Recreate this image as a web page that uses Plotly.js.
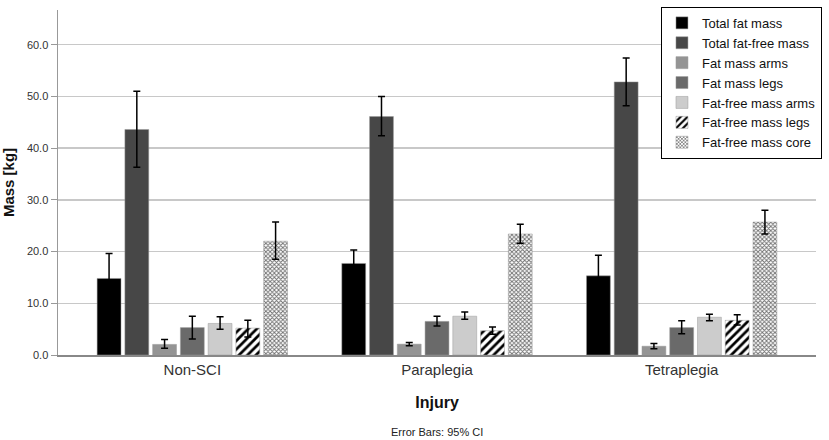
<!DOCTYPE html>
<html>
<head>
<meta charset="utf-8">
<script src="https://cdn.plot.ly/plotly-3.0.1.min.js"></script>
<style>html,body{margin:0;padding:0;background:#fff;}#chart{width:829px;height:440px;}</style>
</head>
<body>
<div id="chart"></div>
<script>
var categories = ["Non-SCI", "Paraplegia", "Tetraplegia"];
var seriesNames = ["Total fat mass", "Total fat-free mass", "Fat mass arms", "Fat mass legs", "Fat-free mass arms", "Fat-free mass legs", "Fat-free mass core"];
var totalFatMass = [14.8, 17.7, 15.3];
var totalFatMassHi = [19.6, 20.3, 19.3];
var totalFatMassLo = [10.0, 15.1, 11.3];
var totalFatFreeMass = [43.6, 46.1, 52.8];
var totalFatFreeMassHi = [51.0, 50.0, 57.4];
var totalFatFreeMassLo = [36.3, 42.4, 48.2];
var fatMassArms = [2.05, 2.1, 1.7];
var fatMassArmsHi = [3.0, 2.4, 2.2];
var fatMassArmsLo = [1.3, 1.8, 1.2];
var fatMassLegs = [5.3, 6.5, 5.3];
var fatMassLegsHi = [7.5, 7.5, 6.6];
var fatMassLegsLo = [3.1, 5.6, 4.1];
var ffArms = [6.1, 7.5, 7.3];
var ffArmsHi = [7.4, 8.3, 7.9];
var ffArmsLo = [5.0, 6.9, 6.6];
var ffLegs = [5.2, 4.7, 6.7];
var ffLegsHi = [6.7, 5.4, 7.8];
var ffLegsLo = [3.5, 4.0, 5.8];
var ffCore = [22.0, 23.4, 25.7];
var ffCoreHi = [25.7, 25.3, 28.0];
var ffCoreLo = [18.5, 21.6, 23.4];
var yTickVals = [0, 10, 20, 30, 40, 50, 60];
var yTickText = ["0.0", "10.0", "20.0", "30.0", "40.0", "50.0", "60.0"];

var values = [totalFatMass, totalFatFreeMass, fatMassArms, fatMassLegs, ffArms, ffLegs, ffCore];
var his = [totalFatMassHi, totalFatFreeMassHi, fatMassArmsHi, fatMassLegsHi, ffArmsHi, ffLegsHi, ffCoreHi];
var los = [totalFatMassLo, totalFatFreeMassLo, fatMassArmsLo, fatMassLegsLo, ffArmsLo, ffLegsLo, ffCoreLo];
var colors = ["#000000", "#474747", "#949494", "#6a6a6a", "#cccccc", "#ffffff", "#ffffff"];
var patterns = [null, null, null, null, null,
  {shape: "/", fgcolor: "#000000", bgcolor: "#ffffff", size: 6, solidity: 0.45},
  {shape: "x", fgcolor: "#6e6e6e", bgcolor: "#ffffff", size: 3, solidity: 0.5}];

var traces = values.map(function (v, i) {
  var m = {color: colors[i], line: {color: "#9a9a9a", width: 0.5}};
  if (patterns[i]) m.pattern = patterns[i];
  return {
    type: "bar",
    name: seriesNames[i],
    x: categories,
    y: v,
    marker: m,
    error_y: {
      type: "data", symmetric: false,
      array: v.map(function (d, j) { return his[i][j] - d; }),
      arrayminus: v.map(function (d, j) { return d - los[i][j]; }),
      color: "#000000", thickness: 1.5, width: 3.5
    }
  };
});

var layout = {
  width: 829, height: 440,
  margin: {l: 58, r: 9, t: 7, b: 85},
  paper_bgcolor: "#ffffff", plot_bgcolor: "#ffffff",
  font: {family: "Liberation Sans, Arial, sans-serif", color: "#222"},
  barmode: "group", bargap: 0.206, bargroupgap: 0.14,
  xaxis: {
    range: [-0.549, 2.549], showgrid: false, showline: true, linecolor: "#888", linewidth: 1.5,
    ticks: "", tickfont: {size: 15, color: "#333"},
    title: {text: "<b>Injury</b>", font: {size: 16, color: "#111"}, standoff: 20}
  },
  yaxis: {
    range: [0, 66.7], tickvals: yTickVals, ticktext: yTickText, showgrid: true, gridcolor: "#c8c8c8", gridwidth: 1.5,
    showline: true, linecolor: "#999", linewidth: 1.5, zeroline: false,
    ticks: "outside", ticklen: 6, tickcolor: "#999", tickfont: {size: 11, color: "#333"},
    title: {text: "<b>Mass [kg]</b>", font: {size: 15, color: "#111"}, standoff: 10}
  },
  showlegend: true,
  legend: {
    x: (826 - 58) / 762, y: 1.009, xanchor: "right", yanchor: "top",
    bgcolor: "#ffffff", bordercolor: "#000", borderwidth: 1,
    font: {size: 13, color: "#111"}, tracegroupgap: 0, itemwidth: 30
  },
  annotations: [{
    xref: "paper", yref: "paper", x: 0.5, y: 0, yshift: -77, xanchor: "center", yanchor: "middle",
    text: "Error Bars: 95% CI", showarrow: false, font: {size: 11, color: "#222"}
  }]
};

Plotly.newPlot("chart", traces, layout, {displayModeBar: false, staticPlot: true});
</script>
</body>
</html>
